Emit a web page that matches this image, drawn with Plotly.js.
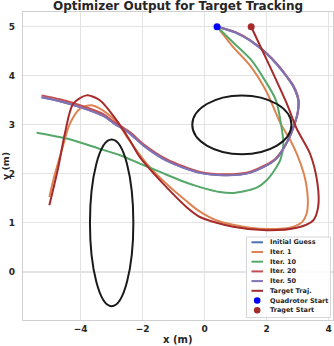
<!DOCTYPE html>
<html>
<head>
<meta charset="utf-8">
<script src="https://cdn.plot.ly/plotly-3.0.1.min.js"></script>
<style>
  body { margin: 0; }
  #plot { width: 334px; height: 346px; }
</style>
</head>
<body>
<div id="plot"></div>
<script>
// trajectories, ordered from the start point
var iter50X = [0.4, 1.0, 1.46, 2.0, 2.32, 2.65, 2.86, 3.02, 3.0, 2.92, 2.7, 2.3, 1.5, 0.7, -0.15, -1.23, -1.98, -2.41, -2.95, -3.27, -4.02, -4.67, -5.26];
var iter50Y = [5.0, 4.88, 4.72, 4.45, 4.24, 3.98, 3.78, 3.5, 3.25, 3.06, 2.7, 2.3, 2.03, 1.97, 2.02, 2.27, 2.58, 2.82, 3.04, 3.18, 3.36, 3.48, 3.56];

var iter20X = [0.4, 1.0, 1.46, 2.0, 2.32, 2.65, 2.87, 3.03, 3.01, 2.93, 2.71, 2.3, 1.5, 0.7, -0.15, -1.23, -1.98, -2.41, -2.95, -3.27, -4.02, -4.67, -5.26];
var iter20Y = [5.0, 4.89, 4.73, 4.46, 4.25, 3.99, 3.79, 3.51, 3.26, 3.07, 2.71, 2.32, 2.05, 1.99, 2.04, 2.3, 2.61, 2.85, 3.07, 3.22, 3.4, 3.52, 3.6];

var initialX = iter50X.slice();
var initialY = iter50Y.slice();

var iter10X = [0.4, 0.92, 1.52, 1.95, 2.3, 2.48, 2.54, 2.45, 2.32, 2.0, 1.68, 0.92, 0.49, -0.15, -0.8, -1.44, -2.09, -2.73, -3.38, -4.45, -5.42];
var iter10Y = [5.0, 4.68, 4.31, 3.9, 3.5, 2.95, 2.61, 2.3, 2.14, 1.87, 1.72, 1.61, 1.63, 1.73, 1.87, 2.04, 2.21, 2.38, 2.51, 2.72, 2.84];

var iter1X = [0.4, 0.9, 1.46, 2.0, 2.43, 2.75, 2.97, 3.2, 3.29, 3.33, 3.29, 3.15, 2.9, 2.43, 1.46, 0.39, -0.2, -0.6, -1.12, -1.87, -2.45, -2.8, -3.27, -3.65, -4.02, -4.35, -4.61, -4.83, -5.01];
var iter1Y = [5.0, 4.6, 4.21, 3.67, 3.05, 2.7, 2.41, 2.0, 1.73, 1.4, 1.19, 1.02, 0.93, 0.88, 0.9, 1.05, 1.25, 1.45, 1.73, 2.21, 2.7, 3.03, 3.29, 3.4, 3.33, 3.02, 2.48, 2.0, 1.53];

var targetX = [1.5, 2.11, 2.65, 2.97, 3.4, 3.64, 3.66, 3.5, 2.97, 2.0, 0.92, -0.15, -0.58, -1.34, -2.09, -2.41, -2.84, -3.38, -3.81, -4.24, -4.51, -4.72, -5.01];
var targetY = [5.0, 4.18, 3.43, 2.92, 2.41, 1.8, 1.32, 1.05, 0.9, 0.85, 0.92, 1.12, 1.32, 1.8, 2.34, 2.68, 3.09, 3.5, 3.6, 3.43, 2.82, 2.14, 1.36];

var quadStart = [0.4, 5.0];
var targetStart = [1.5, 5.0];

// obstacles: centre x, centre y, half width, half height
var obstacleCx = [-3.0, 1.2];
var obstacleCy = [1.0, 3.0];
var obstacleRx = [0.7, 1.6];
var obstacleRy = [1.7, 0.6];

var xTicks = [-4, -2, 0, 2, 4];
var yTicks = [0, 1, 2, 3, 4, 5];

var legendLabels = ['Initial Guess', 'Iter. 1', 'Iter. 10', 'Iter. 20', 'Iter. 50', 'Target Traj.', 'Quadrotor Start', 'Traget Start'];
var legendColors = ['#4C72B0', '#DD8452', '#55A868', '#C44E52', '#8172B3', '#A52A2A', '#0000FF', '#A52A2A'];

function line(x, y, color) {
  return {
    x: x, y: y, type: 'scatter', mode: 'lines',
    line: { color: color, width: 2, shape: 'spline', smoothing: 0.8 },
    hoverinfo: 'skip'
  };
}

var data = [
  line(initialX, initialY, legendColors[0]),
  line(iter1X, iter1Y, legendColors[1]),
  line(iter10X, iter10Y, legendColors[2]),
  line(iter20X, iter20Y, legendColors[3]),
  line(iter50X, iter50Y, legendColors[4]),
  line(targetX, targetY, legendColors[5]),
  { x: [quadStart[0]], y: [quadStart[1]], type: 'scatter', mode: 'markers',
    marker: { color: legendColors[6], size: 7 } },
  { x: [targetStart[0]], y: [targetStart[1]], type: 'scatter', mode: 'markers',
    marker: { color: legendColors[7], size: 7 } }
];

var shapes = [];
for (var i = 0; i < obstacleCx.length; i++) {
  shapes.push({
    type: 'circle', xref: 'x', yref: 'y', layer: 'above',
    x0: obstacleCx[i] - obstacleRx[i], x1: obstacleCx[i] + obstacleRx[i],
    y0: obstacleCy[i] - obstacleRy[i], y1: obstacleCy[i] + obstacleRy[i],
    line: { color: '#1a1a1a', width: 2 }
  });
}

// hand made legend, plotly's own one has too tall rows for this size
var L = 23, R = 333, T = 12, B = 320;
function px(x) { return (x - L) / (R - L); }
function py(y) { return (B - y) / (B - T); }

var annotations = [];
shapes.push({
  type: 'rect', xref: 'paper', yref: 'paper', layer: 'above',
  x0: px(246.5), x1: px(330.5), y0: py(317.5), y1: py(237),
  line: { color: '#d6d6d6', width: 1 }, fillcolor: 'rgba(255,255,255,0.85)'
});
for (var k = 0; k < legendLabels.length; k++) {
  var rowY = 242.3 + k * 9.7;
  if (k < 6) {
    shapes.push({
      type: 'line', xref: 'paper', yref: 'paper', layer: 'above',
      x0: px(251.5), x1: px(263), y0: py(rowY), y1: py(rowY),
      line: { color: legendColors[k], width: 2 }
    });
  } else {
    shapes.push({
      type: 'circle', xref: 'paper', yref: 'paper', layer: 'above',
      x0: px(257.2 - 3.3), x1: px(257.2 + 3.3), y0: py(rowY + 3.3), y1: py(rowY - 3.3),
      line: { width: 0 }, fillcolor: legendColors[k]
    });
  }
  annotations.push({
    xref: 'paper', yref: 'paper', x: px(267.5), y: py(rowY),
    xanchor: 'left', yanchor: 'middle', showarrow: false,
    text: legendLabels[k],
    font: { family: 'DejaVu Sans', size: 6.5, weight: 'bold', color: '#262626' }
  });
}

var tickFont = { family: 'DejaVu Sans', size: 9, weight: 'bold', color: '#262626' };
var labelFont = { family: 'DejaVu Sans', size: 10, weight: 'bold', color: '#262626' };

// axis titles placed by hand
annotations.push({
  xref: 'paper', yref: 'paper', x: 0.5, y: py(339), xanchor: 'center', yanchor: 'middle',
  showarrow: false, text: 'x (m)', font: labelFont
});
annotations.push({
  xref: 'paper', yref: 'paper', x: px(5), y: 0.5, xanchor: 'center', yanchor: 'middle',
  showarrow: false, text: 'y (m)', textangle: -90, font: { family: 'DejaVu Sans', size: 9.5, weight: 'bold', color: '#262626' }
});

var layout = {
  width: 334,
  height: 346,
  showlegend: false,
  paper_bgcolor: 'white',
  plot_bgcolor: 'white',
  margin: { l: L, r: 334 - R, t: T, b: 346 - B, pad: 0 },
  title: {
    text: 'Optimizer Output for Target Tracking',
    font: { family: 'DejaVu Sans', size: 12, weight: 'bold', color: '#262626' },
    xref: 'paper', x: 0.5, xanchor: 'center',
    yref: 'container', y: 0.982, yanchor: 'middle'
  },
  xaxis: {
    range: [-5.86, 4.14],
    tickvals: xTicks,
    showgrid: true, gridcolor: '#e3e3e3', gridwidth: 1.2,
    zeroline: false,
    showline: true, mirror: true, linecolor: '#cfcfcf', linewidth: 1.2,
    ticks: '', tickfont: tickFont
  },
  yaxis: {
    range: [-0.98, 5.3],
    tickvals: yTicks,
    showgrid: true, gridcolor: '#e3e3e3', gridwidth: 1.2,
    zeroline: false,
    showline: true, mirror: true, linecolor: '#cfcfcf', linewidth: 1.2,
    ticks: '', tickfont: tickFont, ticklabelstandoff: 5
  },
  shapes: shapes,
  annotations: annotations
};

Plotly.newPlot('plot', data, layout, { displayModeBar: false, staticPlot: true });
</script>
</body>
</html>
